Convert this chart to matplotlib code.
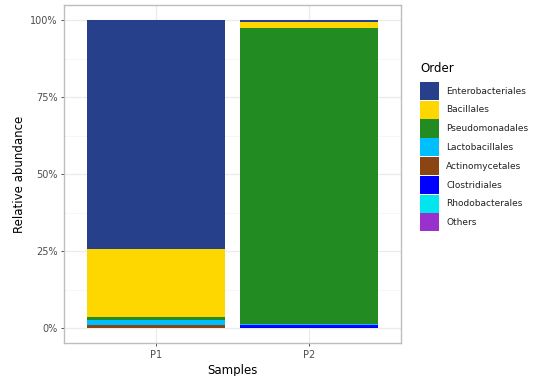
import matplotlib
matplotlib.use("Agg")
import matplotlib.pyplot as plt
from matplotlib.patches import Patch
import numpy as np

samples = ["P1", "P2"]
orders = ["Enterobacteriales", "Bacillales", "Pseudomonadales", "Lactobacillales",
          "Actinomycetales", "Clostridiales", "Rhodobacterales", "Others"]
colors = ["#27408B", "#FFD700", "#228B22", "#00BFFF", "#8B4513", "#0000FF", "#00E5EE", "#9932CC"]
# relative abundance (fraction) per sample
values = {
    "Enterobacteriales": [0.745, 0.006],
    "Bacillales":        [0.220, 0.021],
    "Pseudomonadales":   [0.008, 0.960],
    "Lactobacillales":   [0.018, 0.003],
    "Actinomycetales":   [0.008, 0.000],
    "Clostridiales":     [0.000, 0.010],
    "Rhodobacterales":   [0.000, 0.000],
    "Others":            [0.001, 0.000],
}

fig = plt.figure(figsize=(5.41, 3.76), dpi=100)
W, H = 541, 376
ax = fig.add_axes([64 / W, 1 - 343.4 / H, (401 - 64) / W, (343.4 - 4.6) / H])

x = np.arange(1, len(samples) + 1)
bottom = np.zeros(len(samples))
# stack: last order at bottom
for name, col in reversed(list(zip(orders, colors))):
    v = np.array(values[name])
    ax.bar(x, v, 0.9, bottom=bottom, color=col, linewidth=0, zorder=3)
    bottom += v

ax.set_xlim(0.4, 2.6)
ax.set_ylim(-0.05, 1.05)
ax.set_xticks(x)
ax.set_xticklabels(samples)
ax.set_yticks([0, 0.25, 0.5, 0.75, 1.0])
ax.set_yticklabels(["0%", "25%", "50%", "75%", "100%"])
ax.set_yticks([0.125, 0.375, 0.625, 0.875], minor=True)
ax.grid(True, which="major", color="#EBEBEB", linewidth=0.9, zorder=0)
ax.grid(True, which="minor", axis="y", color="#F3F3F3", linewidth=0.5, zorder=0)
ax.tick_params(axis="both", which="major", labelsize=7, colors="#333333", length=2.5, width=0.6, labelcolor="#4D4D4D", pad=2)
ax.tick_params(axis="both", which="minor", length=0)
for s in ax.spines.values():
    s.set_color("#BDBDBD")
    s.set_linewidth(1.0)
ax.set_xlabel("Samples", fontsize=8.5, color="black", labelpad=3)
ax.set_ylabel("Relative abundance", fontsize=8.5, color="black", labelpad=3)

handles = [Patch(facecolor=c, edgecolor="none", label=n) for n, c in zip(orders, colors)]
leg = fig.legend(handles=handles, title="Order", loc="upper left",
                 bbox_to_anchor=(420 / W, 1 - 62 / H), frameon=False,
                 fontsize=6.5, title_fontsize=8.5, handlelength=2.1, handleheight=2.7,
                 labelspacing=0.08, handletextpad=0.8, borderaxespad=0, borderpad=0)
leg._legend_box.align = "left"
leg._legend_box.sep = 5
for t in leg.get_texts():
    t.set_color("#222222")

fig.savefig("out.png", dpi=100)
